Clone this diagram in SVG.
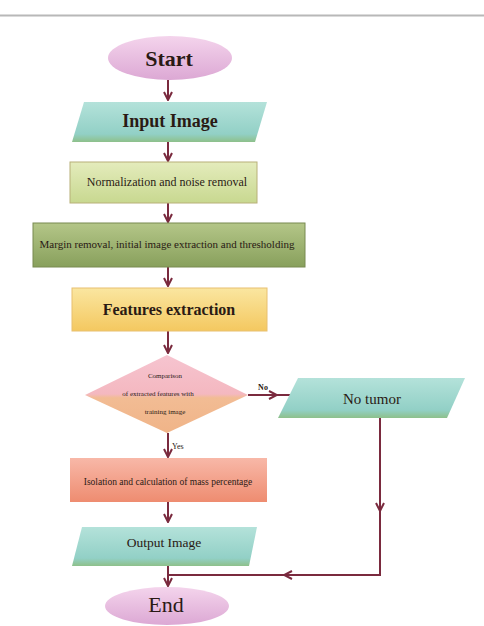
<svg xmlns="http://www.w3.org/2000/svg" width="484" height="626" viewBox="0 0 484 626">
<defs>
<style>
.t{font-family:"Liberation Serif","Times New Roman",serif;fill:#2a1a14;text-anchor:middle;dominant-baseline:central}
.c{stroke:#7a2a3e;stroke-width:2;fill:none}
</style>
<linearGradient id="gPink" x1="0" y1="0" x2="0" y2="1"><stop offset="0" stop-color="#f4d4ec"/><stop offset="1" stop-color="#dca8d4"/></linearGradient>
<linearGradient id="gTeal" x1="0" y1="0" x2="0" y2="1"><stop offset="0" stop-color="#b4e2da"/><stop offset="0.8" stop-color="#92d0c6"/><stop offset="1" stop-color="#8ec08a"/></linearGradient>
<linearGradient id="gLime" x1="0" y1="0" x2="0" y2="1"><stop offset="0" stop-color="#e4ecbc"/><stop offset="1" stop-color="#c8d890"/></linearGradient>
<linearGradient id="gOlive" x1="0" y1="0" x2="0" y2="1"><stop offset="0" stop-color="#b4c688"/><stop offset="1" stop-color="#88a05c"/></linearGradient>
<linearGradient id="gYel" x1="0" y1="0" x2="0" y2="1"><stop offset="0" stop-color="#fae6a0"/><stop offset="1" stop-color="#f4c860"/></linearGradient>
<linearGradient id="gDia" x1="0" y1="0" x2="0" y2="1"><stop offset="0" stop-color="#f6c4d0"/><stop offset="0.5" stop-color="#f4b8c0"/><stop offset="0.55" stop-color="#f2bc94"/><stop offset="1" stop-color="#f0b488"/></linearGradient>
<linearGradient id="gSal" x1="0" y1="0" x2="0" y2="1"><stop offset="0" stop-color="#f8b8a8"/><stop offset="1" stop-color="#ee8c70"/></linearGradient>
<marker id="ah" viewBox="0 0 10 10" refX="9" refY="5" markerWidth="5" markerHeight="5" orient="auto"><path d="M1,1 L9,5 L1,9" fill="none" stroke="#7a2a3e" stroke-width="2"/></marker>
</defs>
<rect width="484" height="626" fill="#ffffff"/>
<line x1="0" y1="15.5" x2="484" y2="15.5" stroke="#b8b8b8" stroke-width="2"/>

<g id="connectors">
<line class="c" x1="168" y1="80" x2="168" y2="100" marker-end="url(#ah)"/>
<line class="c" x1="168" y1="142" x2="168" y2="161" marker-end="url(#ah)"/>
<line class="c" x1="168" y1="203" x2="168" y2="222" marker-end="url(#ah)"/>
<line class="c" x1="168" y1="267" x2="168" y2="286" marker-end="url(#ah)"/>
<line class="c" x1="168" y1="331" x2="168" y2="353" marker-end="url(#ah)"/>
<line class="c" x1="248" y1="395" x2="277" y2="395" marker-end="url(#ah)"/>
<line class="c" x1="277" y1="395" x2="290" y2="395"/>
<text class="t" x="263" y="387" font-size="8" font-weight="bold">No</text>
<line class="c" x1="168" y1="433" x2="168" y2="457" marker-end="url(#ah)"/>
<text class="t" x="172" y="446" style="text-anchor:start" font-size="8">Yes</text>
<line class="c" x1="168" y1="502" x2="168" y2="522" marker-end="url(#ah)"/>
<line class="c" x1="168" y1="566" x2="168" y2="586" marker-end="url(#ah)"/>
<polyline class="c" points="380,418 380,575 168,575"/>
<line class="c" x1="380" y1="500" x2="380" y2="511" marker-end="url(#ah)"/>
<line class="c" x1="295" y1="575" x2="284" y2="575" marker-end="url(#ah)"/>
</g>

<g id="start">
<ellipse cx="170" cy="58" rx="62" ry="22" fill="url(#gPink)"/>
<text class="t" x="169" y="58" font-size="22" font-weight="bold">Start</text>
</g>

<g id="input">
<polygon points="84,102 267,102 255,142 72,142" fill="url(#gTeal)"/>
<text class="t" x="170" y="121" font-size="18" font-weight="bold">Input Image</text>
</g>

<g id="normalization">
<rect x="70" y="162" width="187" height="41" fill="url(#gLime)" stroke="#b8b078" stroke-width="1"/>
<text class="t" x="167" y="182" font-size="12">Normalization and noise removal</text>
</g>

<g id="margin">
<rect x="33" y="223" width="272" height="44" fill="url(#gOlive)" stroke="#788a50" stroke-width="1"/>
<text class="t" x="167" y="244" font-size="11">Margin removal, initial image extraction and thresholding</text>
</g>

<g id="features">
<rect x="72" y="288" width="195" height="43" fill="url(#gYel)" stroke="#e8c070" stroke-width="1"/>
<text class="t" x="169" y="309" font-size="16" font-weight="bold">Features extraction</text>
</g>

<g id="decision">
<polygon points="167,355 248,395 167,433 85,395" fill="url(#gDia)"/>
<text class="t" x="165" y="376" font-size="7">Comparison</text>
<text class="t" x="158" y="394" font-size="7">of extracted features with</text>
<text class="t" x="165" y="412" font-size="7">training image</text>
</g>

<g id="notumor">
<polygon points="298,378 465,378 447,418 278,418" fill="url(#gTeal)"/>
<text class="t" x="372" y="399" font-size="15">No tumor</text>
</g>

<g id="isolation">
<rect x="70" y="458" width="197" height="44" fill="url(#gSal)"/>
<text class="t" x="168" y="482" font-size="9.5">Isolation and calculation of mass percentage</text>
</g>

<g id="output">
<polygon points="82,527 257,527 249,566 72,566" fill="url(#gTeal)"/>
<text class="t" x="164" y="542" font-size="13.5">Output Image</text>
</g>

<g id="end">
<ellipse cx="167" cy="606" rx="62" ry="19" fill="url(#gPink)"/>
<text class="t" x="166" y="604" font-size="22">End</text>
</g>
</svg>
